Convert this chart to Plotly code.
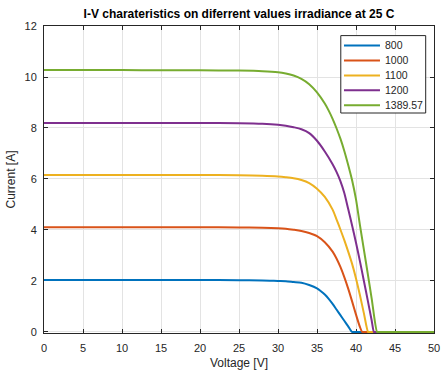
import plotly.graph_objects as go

# Irradiance levels (W/m^2) shown in the legend
irradiance = ["800", "1000", "1100", "1200", "1389.57"]
colors = ["#0072BD", "#D95319", "#EDB120", "#7E2F8E", "#77AC30"]

# I-V samples per irradiance level: voltage [V] and current [A]
v_800 = [0, 5, 10, 15, 20, 25, 28, 30, 31, 32, 33, 34, 35, 35.5, 36, 36.5, 37, 37.5, 38, 38.5, 39, 39.5, 39.6, 50]
i_800 = [2.04, 2.04, 2.04, 2.04, 2.04, 2.03, 2.02, 2.0, 1.99, 1.96, 1.93, 1.84, 1.71, 1.6, 1.47, 1.3, 1.1, 0.88, 0.66, 0.44, 0.22, 0.0, 0.0, 0.0]

v_1000 = [0, 5, 10, 15, 20, 25, 28, 30, 31, 32, 33, 34, 35, 36, 37, 37.5, 38, 38.5, 39, 39.5, 40, 40.5, 40.8, 40.9, 50]
i_1000 = [4.11, 4.11, 4.11, 4.11, 4.11, 4.1, 4.09, 4.07, 4.05, 4.01, 3.96, 3.88, 3.76, 3.52, 3.15, 2.88, 2.55, 2.15, 1.7, 1.2, 0.68, 0.2, 0.0, 0.0, 0.0]

v_1100 = [0, 5, 10, 15, 20, 25, 28, 30, 31, 32, 33, 34, 35, 36, 37, 37.5, 38, 38.5, 39, 39.5, 40, 40.5, 41, 41.55, 41.65, 50]
i_1100 = [6.16, 6.16, 6.16, 6.16, 6.16, 6.15, 6.13, 6.1, 6.07, 6.03, 5.96, 5.84, 5.62, 5.3, 4.8, 4.42, 4.02, 3.6, 3.15, 2.67, 2.1, 1.45, 0.75, 0.0, 0.0, 0.0]

v_1200 = [0, 5, 10, 15, 20, 25, 28, 30, 31, 32, 33, 34, 35, 36, 37, 37.5, 38, 38.5, 39, 39.5, 40, 40.5, 41, 41.5, 42, 42.3, 42.4, 50]
i_1200 = [8.2, 8.2, 8.2, 8.2, 8.2, 8.19, 8.17, 8.13, 8.09, 8.03, 7.95, 7.8, 7.5, 7.08, 6.58, 6.28, 5.92, 5.45, 4.82, 4.18, 3.5, 2.78, 2.02, 1.25, 0.47, 0.0, 0.0, 0.0]

v_1389 = [0, 5, 10, 15, 20, 25, 28, 30, 31, 32, 33, 34, 35, 36, 36.5, 37, 37.5, 38, 38.5, 39, 39.5, 40, 40.5, 41, 41.5, 42, 42.7, 42.8, 50]
i_1389 = [10.27, 10.27, 10.27, 10.26, 10.26, 10.25, 10.23, 10.19, 10.14, 10.06, 9.93, 9.72, 9.4, 8.96, 8.68, 8.36, 7.99, 7.58, 7.1, 6.55, 5.95, 5.2, 4.2, 3.25, 2.3, 1.33, 0.0, 0.0, 0.0]

voltages = [v_800, v_1000, v_1100, v_1200, v_1389]
currents = [i_800, i_1000, i_1100, i_1200, i_1389]

x_ticks = list(range(0, 51, 5))
y_ticks = list(range(0, 13, 2))

FONT = "Liberation Sans, Arial, Helvetica, sans-serif"
INK = "#262626"

fig = go.Figure()
for name, v, i, c in zip(irradiance, voltages, currents, colors):
    fig.add_trace(go.Scatter(x=v, y=i, mode="lines", name=name,
                             line=dict(color=c, width=2, shape="spline", smoothing=0.8),
                             showlegend=False))

# Boxed legend in the upper-right corner of the axes
lg_left, lg_right = 0.761, 0.9787       # paper x of the box edges
lg_top, lg_bottom = 0.9687, 0.7166      # paper y of the box edges
row_step = 0.0487
line_x0, line_x1 = 0.7692, 0.8615
text_x = 0.870
fig.add_shape(type="rect", xref="paper", yref="paper",
              x0=lg_left, x1=lg_right, y0=lg_bottom, y1=lg_top,
              line=dict(color=INK, width=1), fillcolor="white", layer="above")
for k, (name, c) in enumerate(zip(irradiance, colors)):
    yk = 0.9365 - k * row_step
    fig.add_shape(type="line", xref="paper", yref="paper",
                  x0=line_x0, x1=line_x1, y0=yk, y1=yk,
                  line=dict(color=c, width=2), layer="above")
    fig.add_annotation(x=text_x, y=yk, xref="paper", yref="paper",
                       text=name, showarrow=False, xanchor="left", yanchor="middle",
                       font=dict(family=FONT, size=10.5, color=INK))

axis_common = dict(
    showline=True, linecolor=INK, linewidth=1, mirror="ticks",
    ticks="inside", ticklen=4, tickcolor=INK, tickwidth=1,
    showgrid=True, gridcolor="#e3e3e3", gridwidth=1, zeroline=False,
    tickfont=dict(family=FONT, size=11, color=INK), automargin=False,
)

fig.update_layout(
    width=442, height=374, autosize=False,
    margin=dict(l=44, r=8, t=26, b=41, autoexpand=False),
    paper_bgcolor="white", plot_bgcolor="white",
    title=dict(text="<b>I-V charateristics on diferrent values irradiance at 25 C</b>",
               x=0.5407, xanchor="center", y=0.962, yanchor="middle",
               font=dict(family=FONT, size=12, color="black"), automargin=False),
    xaxis=dict(range=[0, 50], tickvals=x_ticks, ticklabelstandoff=5,
               title=dict(text="Voltage [V]", standoff=5,
                          font=dict(family=FONT, size=12, color=INK)),
               layer="below traces", **axis_common),
    yaxis=dict(range=[-0.04, 12], tickvals=y_ticks, ticklabelstandoff=4,
               title=dict(text="Current [A]", standoff=6,
                          font=dict(family=FONT, size=12, color=INK)),
               layer="below traces", **axis_common),
)

fig.write_html("out.html")
